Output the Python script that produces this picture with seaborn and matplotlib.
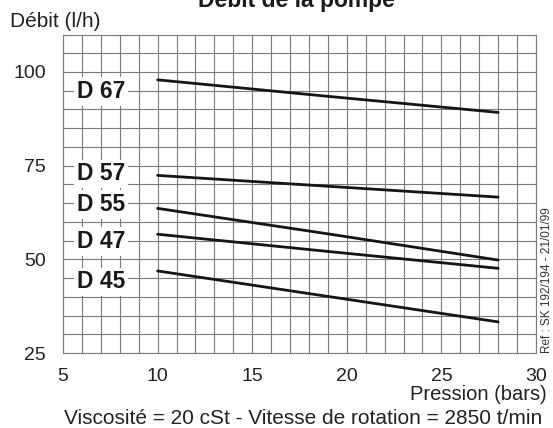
import pandas as pd
import matplotlib
matplotlib.use("Agg")
import matplotlib.pyplot as plt
import seaborn as sns

pression = [10, 19, 28]
d67 = [97.9, 93.5, 89.2]
d57 = [72.4, 69.5, 66.6]
d55 = [63.6, 56.8, 49.8]
d47 = [56.7, 52.1, 47.6]
d45 = [46.9, 40.1, 33.3]
noms = ['D 67', 'D 57', 'D 55', 'D 47', 'D 45']
label_y = [94.8, 72.8, 64.6, 54.7, 44.0]

x_ticks = [5, 10, 15, 20, 25, 30]
y_ticks = [25, 50, 75, 100]

rows = []
for nom, serie in zip(noms, [d67, d57, d55, d47, d45]):
    for p, q in zip(pression, serie):
        rows.append({'Pompe': nom, 'Pression': p, 'Debit': q})
df = pd.DataFrame(rows)

sns.set_style("white")
plt.rcParams['font.family'] = ['Liberation Sans', 'DejaVu Sans']

fig = plt.figure(figsize=(5.53, 4.28), dpi=100)
ax = fig.add_axes([63 / 553, 1 - 353 / 428, (536 - 63) / 553, (353 - 34.5) / 428])

sns.lineplot(data=df, x='Pression', y='Debit', hue='Pompe',
             palette=['#151515'] * 5, linewidth=2.0, legend=False,
             zorder=3, ax=ax)

ax.set_xlim(5, 30)
ax.set_ylim(25, 110)
ax.set_xticks(x_ticks)
ax.set_yticks(y_ticks)
ax.set_xticks(range(5, 31), minor=True)
ax.set_yticks(range(25, 111, 5), minor=True)
ax.grid(which='both', color='#7a7a7a', linewidth=0.8, zorder=1)
ax.set_axisbelow(True)
for s in ax.spines.values():
    s.set_color('#7a7a7a')
    s.set_linewidth(0.8)
ax.tick_params(which='major', length=6.5, width=0.8, color='#555555',
               labelsize=14, labelcolor='#222222', pad=4)
ax.tick_params(axis='y', which='major', pad=6)
ax.tick_params(which='minor', length=0)
ax.set_xlabel('')
ax.set_ylabel('')

for nom, y in zip(noms, label_y):
    ax.text(7.0, y, nom, ha='center', va='center', fontsize=16.5,
            fontweight='bold', color='#1a1a1a', zorder=4,
            bbox=dict(boxstyle='square,pad=0.12', facecolor='white',
                      edgecolor='none'))

H = 428
fig.text(296 / 553, 1 - 7 / H, 'Débit de la pompe', ha='center',
         va='baseline', fontsize=16.5, fontweight='bold', color='#1a1a1a')
fig.text(10 / 553, 1 - 27 / H, 'Débit (l/h)', ha='left', va='baseline',
         fontsize=15, color='#222222')
fig.text(547 / 553, 1 - 394 / H, 'Pression (bars)', ha='right',
         va='center', fontsize=14.5, color='#222222')
fig.text(303 / 553, 1 - 418 / H,
         'Viscosité = 20 cSt - Vitesse de rotation = 2850 t/min',
         ha='center', va='center', fontsize=15, color='#222222')
fig.text(547 / 553, 1 - 353 / H, 'Ref : SK 192/194 - 21/01/99',
         rotation=90, ha='center', va='bottom', fontsize=8.5,
         color='#333333')

fig.savefig('out.png', dpi=100)
